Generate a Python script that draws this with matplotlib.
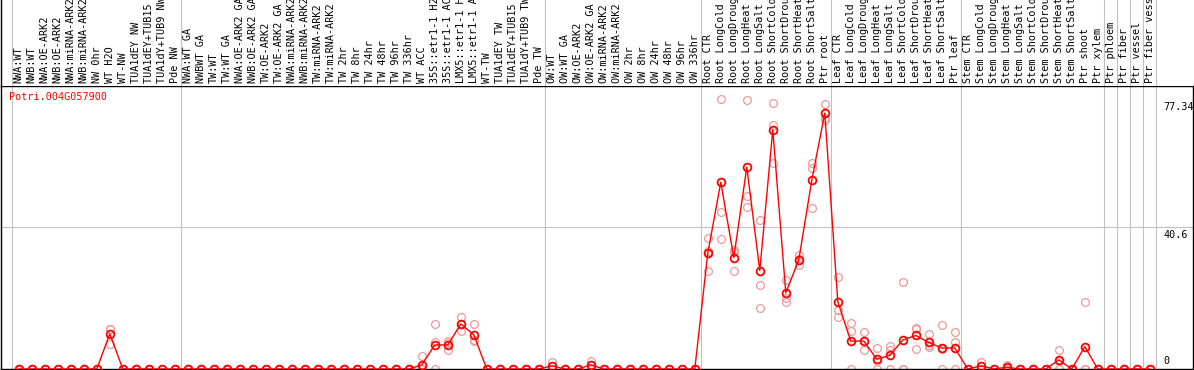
import matplotlib
matplotlib.use("Agg")
import matplotlib.pyplot as plt
import matplotlib.transforms as mtransforms

gene = "Potri.004G057900"

labels = [
    "NWA:WT", "NWB:WT", "NWA:OE-ARK2", "NWB:OE-ARK2", "NWA:miRNA-ARK2", "NWB:miRNA-ARK2",
    "NW 0hr", "WT H2O", "WT-NW", "TUA1dEY NW", "TUA1dEY+TUB15 NW", "TUA1dY+TUB9 NW", "Pde NW",
    "NWA:WT GA", "NWBWT GA", "TW:WT", "TW:WT GA", "NWA:OE-ARK2 GA", "NWB:OE-ARK2 GA",
    "TW:OE-ARK2", "TW:OE-ARK2 GA", "NWA:miRNA-ARK2 GA", "NWB:miRNA-ARK2 GA", "TW:miRNA-ARK2",
    "TW:miRNA-ARK2 GA", "TW 2hr", "TW 8hr", "TW 24hr", "TW 48hr", "TW 96hr", "TW 336hr",
    "WT ACC", "35S::etr1-1 H2O", "35S::etr1-1 ACC", "LMX5::etr1-1 H2O", "LMX5::etr1-1 ACC",
    "WT-TW", "TUA1dEY TW", "TUA1dEY+TUB15 TW", "TUA1dY+TUB9 TW", "Pde TW",
    "OW:WT", "OW:WT GA", "OW:OE-ARK2", "OW:OE-ARK2 GA", "OW:miRNA-ARK2", "OW:miRNA-ARK2 GA",
    "OW 2hr", "OW 8hr", "OW 24hr", "OW 48hr", "OW 96hr", "OW 336hr",
    "Root CTR", "Root LongCold", "Root LongDrought", "Root LongHeat", "Root LongSalt",
    "Root ShortCold", "Root ShortDrought", "Root ShortHeat", "Root ShortSalt", "Ptr root",
    "Leaf CTR", "Leaf LongCold", "Leaf LongDrought", "Leaf LongHeat", "Leaf LongSalt",
    "Leaf ShortCold", "Leaf ShortDrought", "Leaf ShortHeat", "Leaf ShortSalt", "Ptr leaf",
    "Stem CTR", "Stem LongCold", "Stem LongDrought", "Stem LongHeat", "Stem LongSalt",
    "Stem ShortCold", "Stem ShortDrought", "Stem ShortHeat", "Stem ShortSalt", "Ptr shoot",
    "Ptr xylem", "Ptr phloem", "Ptr fiber", "Ptr vessel", "Ptr fiber vessel",
]

# mean expression per sample (10 per line)
means = [
    0, 0, 0, 0, 0, 0, 0, 10.1, 0, 0,
    0, 0, 0, 0, 0, 0, 0, 0, 0, 0,
    0, 0, 0, 0, 0, 0, 0, 0, 0, 0,
    0, 1.2, 6.9, 6.9, 12.9, 9.8, 0, 0, 0, 0,
    0, 0.9, 0, 0, 1.2, 0, 0, 0, 0, 0,
    0, 0, 0, 33.2, 53.5, 31.9, 57.8, 28.2, 68.5, 21.8,
    31.3, 54.1, 73.3, 19.3, 8.0, 8.0, 2.8, 3.9, 8.3, 9.6,
    7.6, 6.0, 6.0, 0, 0.9, 0, 0.5, 0, 0, 0,
    2.6, 0, 6.4, 0, 0, 0, 0, 0,
]

# replicates
rep_a = [
    0, 0, 0, 0, 0, 0, 0, 11.5, 0, 0,
    0, 0, 0, 0, 0, 0, 0, 0, 0, 0,
    0, 0, 0, 0, 0, 0, 0, 0, 0, 0,
    0, 3.7, 13.0, 7.9, 14.8, 13.0, 0, 0, 0, 0,
    0, 1.9, 0, 0, 2.4, 0, 0, 0, 0, 0,
    0, 0, 0, 37.4, 77.34, 34.0, 77.0, 42.8, 76.3, 25.6,
    32.6, 59.0, 76.0, 26.4, 13.2, 10.6, 6.0, 6.6, 25.0, 11.7,
    10.0, 12.6, 10.6, 0, 1.9, 0, 1.2, 0, 0, 0,
    5.5, 0, 19.2, 0, 0, 0, 0, 0,
]
rep_b = [
    0, 0, 0, 0, 0, 0, 0, 7.2, 0, 0,
    0, 0, 0, 0, 0, 0, 0, 0, 0, 0,
    0, 0, 0, 0, 0, 0, 0, 0, 0, 0,
    0, 0, 7.7, 5.3, 10.9, 8.3, 0, 0, 0, 0,
    0, 0.8, 0, 0, 1.2, 0, 0, 0, 0, 0,
    0, 0, 0, 33.8, 45.1, 28.1, 49.6, 24.2, 69.8, 20.4,
    29.9, 57.5, 72.0, 16.8, 10.9, 5.4, 0, 5.4, 0, 5.7,
    6.9, 5.7, 7.7, 0, 0.8, 0, 0.3, 0, 0, 0,
    0, 0, 0, 0, 0, 0, 0, 0,
]
rep_c = [
    0, 0, 0, 0, 0, 0, 0, 11.6, 0, 0,
    0, 0, 0, 0, 0, 0, 0, 0, 0, 0,
    0, 0, 0, 0, 0, 0, 0, 0, 0, 0,
    0, 0, 0, 7.5, 13.0, 7.9, 0, 0, 0, 0,
    0, 0, 0, 0, 0, 0, 0, 0, 0, 0,
    0, 0, 0, 28.1, 37.1, 33.6, 46.4, 17.5, 58.9, 19.1,
    31.4, 46.0, 71.4, 14.9, 0, 8.0, 2.4, 0, 0, 11.4,
    6.3, 0, 0, 0, 0, 0, 0, 0, 0, 0,
    2.3, 0, 0, 0, 0, 0, 0, 0,
]

# last sample index of each group (separators drawn after these)
group_ends = [-1, 12, 40, 52, 62, 72, 83, 84, 85, 86, 87]
yticks = [0, 40.6, 77.34]

W, H = 1194, 370
x = list(range(len(labels)))
mono = "DejaVu Sans Mono"
grey = "#c0c0c0"

fig = plt.figure(figsize=(W / 100, H / 100), dpi=100)
ax = fig.add_axes([1 / W, 1 / H, 1192 / W, 283.5 / H])
ax_lab = fig.add_axes([1 / W, 284.5 / H, 1192 / W, 85.5 / H], sharex=ax)

x0, step = 18.8, 13.0
ax.set_xlim((1 - x0) / step, (1193 - x0) / step)
ax.set_ylim(0, 81.2)

for a in (ax, ax_lab):
    a.set_xticks([])
    a.set_yticks([])
    for b in group_ends:
        a.axvline(b + 0.46, color=grey, lw=0.8, zorder=1)

for s in ax.spines.values():
    s.set_color("black")
    s.set_linewidth(1)
ax_lab.spines["top"].set_visible(False)
ax_lab.spines["right"].set_visible(False)
ax_lab.spines["bottom"].set_visible(False)
ax_lab.spines["left"].set_linewidth(1)
ax_lab.set_ylim(0, 1)

ax.axhline(40.6, color=grey, lw=0.8, zorder=1)

# replicates first, then mean line on top
for reps in (rep_a, rep_b, rep_c):
    ax.plot(x, reps, "o", ms=5.6, mfc="none", mec="#ee9999", mew=0.9, zorder=2)
ax.plot(x, means, "-", color="red", lw=1.0, zorder=3)
ax.plot(x, means, "o", ms=5.6, mfc="none", mec="red", mew=1.3, zorder=4)

ax.text(8.5 / 1192, 0.9605, gene, transform=ax.transAxes, color="red",
        fontsize=7.3, family=mono, va="center", ha="left")

ytr = ax.get_yaxis_transform()
for v in yticks:
    lab = "0" if v == 0 else str(v)
    if v == 0:
        off = mtransforms.offset_copy(ytr, fig=fig, x=0, y=2.5, units="dots")
        ax.text((1163 - 1) / 1192, v, lab, transform=off, fontsize=7.3, family=mono,
                ha="left", va="bottom", clip_on=False)
    else:
        off = mtransforms.offset_copy(ytr, fig=fig, x=0, y=-3, units="dots")
        ax.text((1163 - 1) / 1192, v, lab, transform=off, fontsize=7.3, family=mono,
                ha="left", va="top", clip_on=False)

xtr = ax_lab.get_xaxis_transform()
for i, lab in zip(x, labels):
    ax_lab.text(i, 2.5 / 85.5, lab, transform=xtr, rotation=90, fontsize=7.3,
                family=mono, ha="center", va="bottom", clip_on=True)

fig.savefig("out.png", dpi=100)
